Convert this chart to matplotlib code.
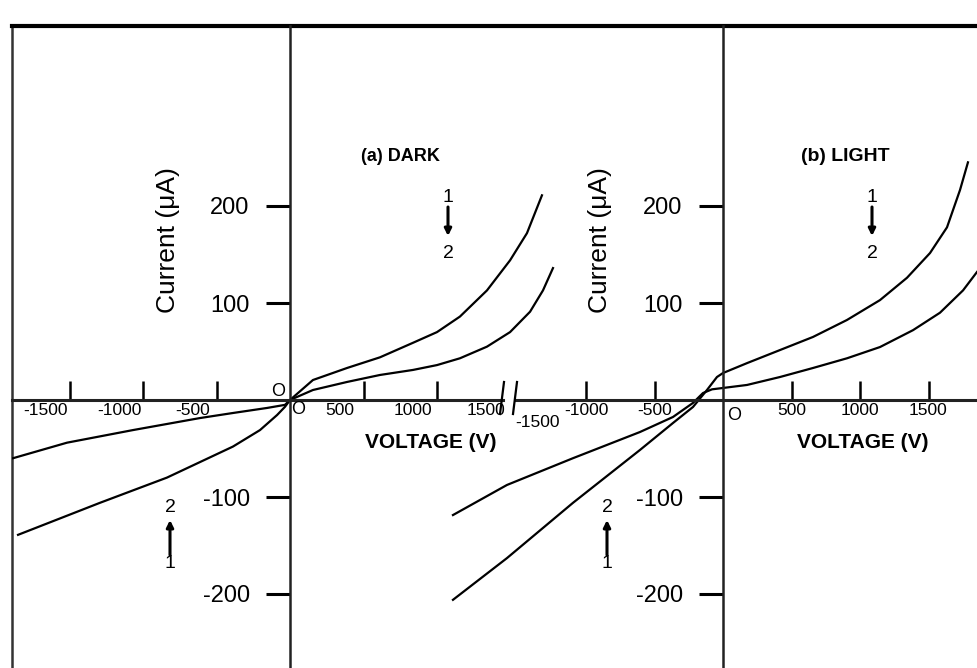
import matplotlib
matplotlib.use("Agg")
import matplotlib.pyplot as plt
from matplotlib.lines import Line2D
from matplotlib.patches import FancyArrowPatch
from matplotlib.transforms import ScaledTranslation

# ---------------- data: voltage (V) and current (uA) ----------------
dark_v1 = [-1850, -1293, -837, -388, -204, -88, -34, 0, 156, 388, 612, 837,
           1000, 1156, 1340, 1497, 1612, 1714]
dark_i1 = [-139, -106, -80, -48, -31, -15.5, -7, 0, 20.6, 33, 44, 59,
           70, 86, 113, 144, 172, 211]
dark_v2 = [-1884, -1517, -1068, -612, -388, -156, -34, 0, 156, 388, 612, 837,
           1000, 1156, 1340, 1497, 1633, 1721, 1789]
dark_i2 = [-60, -44, -31, -18.6, -13.4, -8.2, -5, 0, 10.3, 18.6, 25.8, 31,
           36, 43, 55, 70, 91, 113, 136]

light_v1 = [-1971, -1577, -1095, -606, -365, -219, -117, -44, 0, 175, 416, 657,
            905, 1146, 1343, 1511, 1635, 1730, 1788]
light_i1 = [-206, -163, -106, -51.5, -23.7, -7.2, 10.3, 23.7, 27.8, 38, 51.5, 65,
            82.5, 103, 126, 151.5, 178, 216.5, 245]
light_v2 = [-1971, -1577, -1095, -606, -365, -219, -146, -80, 0, 175, 416, 657,
            905, 1146, 1387, 1584, 1752, 1854]
light_i2 = [-118.6, -87.6, -60, -33, -17.5, -3, 7.2, 11, 12.4, 15.5, 23.7, 33,
            43, 54.6, 72, 90, 113, 132]

y_ticks = [-200, -100, 100, 200]
y_labels = ["-200", "-100", "100", "200"]
dark_xticks = [-1500, -1000, -500, 500, 1000]
dark_xlabels = ["-1500", "-1000", "-500", "500", "1000"]
light_xticks = [-1000, -500, 500, 1000, 1500]
light_xlabels = ["-1000", "-500", "500", "1000", "1500"]

# ---------------- layout ----------------
W, H = 977, 668
plt.rcParams['font.family'] = ['Liberation Sans', 'DejaVu Sans']
fig = plt.figure(figsize=(W / 100, H / 100), dpi=100)

LEFT, TOP = 12, 26
pos = [LEFT / W, 0, (W - LEFT) / W, (H - TOP) / H]
Y0, SY = 400, 0.97


def fx(px):
    return px / W


def fy(py):
    return 1 - py / H


frame = fig.add_axes(pos)
frame.set_xticks([])
frame.set_yticks([])
frame.patch.set_alpha(0)
frame.spines['right'].set_visible(False)
frame.spines['bottom'].set_visible(False)
frame.spines['top'].set_linewidth(3)
frame.spines['left'].set_linewidth(1.8)
frame.spines['left'].set_color('#333333')


def offset(dx, dy):
    return ScaledTranslation(dx / 100, dy / 100, fig.dpi_scale_trans)


def make_panel(x0, sx, axis_from_px, axis_to_px):
    ax = fig.add_axes(pos)
    ax.patch.set_alpha(0)
    ax.set_xlim((LEFT - x0) / sx, (W - x0) / sx)
    ax.set_ylim(-(H - Y0) / SY, (Y0 - TOP) / SY)
    ax.spines['top'].set_visible(False)
    ax.spines['right'].set_visible(False)
    ax.spines['left'].set_position(('data', 0))
    ax.spines['bottom'].set_position(('data', 0))
    ax.spines['bottom'].set_bounds((axis_from_px - x0) / sx, (axis_to_px - x0) / sx)
    ax.spines['left'].set_linewidth(1.8)
    ax.spines['bottom'].set_linewidth(2.2)
    ax.spines['left'].set_color('#222222')
    ax.spines['bottom'].set_color('#222222')
    ax.set_yticks(y_ticks)
    ax.set_yticklabels(y_labels)
    ax.tick_params(axis='y', direction='out', length=17, width=2.2, pad=12,
                   labelsize=17)
    ax.tick_params(axis='x', which='major', direction='in', length=14, width=1.8,
                   pad=2, labelsize=12.5)
    ax.tick_params(axis='x', which='minor', length=0, pad=2, labelsize=12.5)
    return ax


# panel (a) dark
ax_a = make_panel(290, 0.147, LEFT, 503)
ax_a.plot(dark_v1, dark_i1, color='black', lw=1.6)
ax_a.plot(dark_v2, dark_i2, color='black', lw=1.6)
ax_a.set_xticks(dark_xticks)
ax_a.set_xticklabels(dark_xlabels)
ax_a.set_xticks([1500], minor=True)
ax_a.set_xticklabels(["1500"], minor=True)
for t in ax_a.xaxis.get_major_ticks() + ax_a.xaxis.get_minor_ticks():
    t.label1.set_transform(t.label1.get_transform() + offset(-24, 0))

# panel (b) light
ax_b = make_panel(723, 0.137, 516, W)
ax_b.plot(light_v1, light_i1, color='black', lw=1.6)
ax_b.plot(light_v2, light_i2, color='black', lw=1.6)
ax_b.set_xticks(light_xticks)
ax_b.set_xticklabels(light_xlabels)
ax_b.set_xticks([-1500], minor=True)
ax_b.set_xticklabels(["-1500"], minor=True)
for t in ax_b.xaxis.get_minor_ticks():
    t.label1.set_transform(t.label1.get_transform() + offset(20, -12))

# ---------------- annotations ----------------
txt = dict(color='black', ha='center', va='center')
for cx in (168, 600):
    fig.text(fx(cx), fy(240), "Current (μA)", rotation=90, fontsize=19, **txt)
fig.text(fx(400), fy(157), "(a) DARK", fontsize=13, fontweight='bold', **txt)
fig.text(fx(845), fy(157), "(b) LIGHT", fontsize=14, fontweight='bold', **txt)
fig.text(fx(431), fy(443), "VOLTAGE (V)", fontsize=15, fontweight='bold', **txt)
fig.text(fx(863), fy(442), "VOLTAGE (V)", fontsize=15, fontweight='bold', **txt)

# zero labels
fig.text(fx(278), fy(391), "O", fontsize=13, **txt)
fig.text(fx(298), fy(410), "O", fontsize=13, **txt)
fig.text(fx(734), fy(415), "O", fontsize=13, **txt)

# 1 -> 2 direction markers
arrow = dict(arrowstyle='-|>', color='black', lw=2.2, mutation_scale=10,
             shrinkA=0, shrinkB=0)
for cx in (448, 872):
    fig.text(fx(cx), fy(198), "1", fontsize=14, **txt)
    fig.text(fx(cx), fy(253), "2", fontsize=14, **txt)
    fig.add_artist(FancyArrowPatch(
        (fx(cx), fy(207)), (fx(cx), fy(236)), transform=fig.transFigure, **arrow))
for cx in (170, 607):
    fig.text(fx(cx), fy(508), "2", fontsize=14, **txt)
    fig.text(fx(cx), fy(563), "1", fontsize=14, **txt)
    fig.add_artist(FancyArrowPatch(
        (fx(cx), fy(555)), (fx(cx), fy(520)), transform=fig.transFigure, **arrow))

# axis break marks
for bx in (502, 515):
    fig.add_artist(Line2D([fx(bx - 2), fx(bx + 2)], [fy(414), fy(382)],
                          color='black', lw=1.6))

fig.savefig("out.png", dpi=100)
